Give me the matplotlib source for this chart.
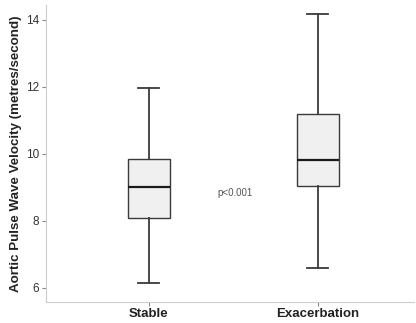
import matplotlib
matplotlib.use('Agg')
import matplotlib.pyplot as plt

# Box plot summary values
groups = ['Stable', 'Exacerbation']
whisker_low = [6.14, 6.59]
q1 = [8.10, 9.05]
median = [9.02, 9.83]
q3 = [9.84, 11.19]
whisker_high = [11.97, 14.18]
y_ticks = [6, 8, 10, 12, 14]
p_text = 'p<0.001'

plt.rcParams['font.family'] = ['Liberation Sans', 'DejaVu Sans']

fig = plt.figure(figsize=(4.16, 3.23), dpi=100)
ax = fig.add_axes([0.111, 0.065, 0.885, 0.92])

stats = []
for i, g in enumerate(groups):
    stats.append({'label': g, 'whislo': whisker_low[i], 'q1': q1[i], 'med': median[i],
                  'q3': q3[i], 'whishi': whisker_high[i], 'fliers': []})

edge = '#3a3a3a'
ax.bxp(stats, positions=[1, 2], widths=0.247, showfliers=False, patch_artist=True,
       boxprops=dict(facecolor='#f0f0f0', edgecolor=edge, linewidth=1.0),
       medianprops=dict(color='#1a1a1a', linewidth=1.6),
       whiskerprops=dict(color=edge, linewidth=1.3),
       capprops=dict(color=edge, linewidth=1.3),
       capwidths=0.125)

ax.text(1.51, 8.84, p_text, fontsize=7, color='#555555', ha='center', va='center')

ax.set_xlim(0.394, 2.57)
ax.set_ylim(5.58, 14.45)
ax.set_yticks(y_ticks)
ax.set_yticklabels([str(t) for t in y_ticks], fontsize=8.5, color='#333333')
ax.set_xticks([1, 2])
ax.set_xticklabels(groups, fontsize=9.5, fontweight='bold', color='#222222')
ax.set_ylabel('Aortic Pulse Wave Velocity (metres/second)', fontsize=9.6,
              fontweight='bold', color='#222222', labelpad=3)

for side in ['top', 'right']:
    ax.spines[side].set_visible(False)
for side in ['left', 'bottom']:
    ax.spines[side].set_color('#cccccc')
ax.tick_params(axis='both', length=3, color='#888888', width=0.8)
ax.tick_params(axis='x', pad=1.5)
ax.tick_params(axis='y', pad=2)

fig.savefig('out.png', dpi=100)
plt.close(fig)
